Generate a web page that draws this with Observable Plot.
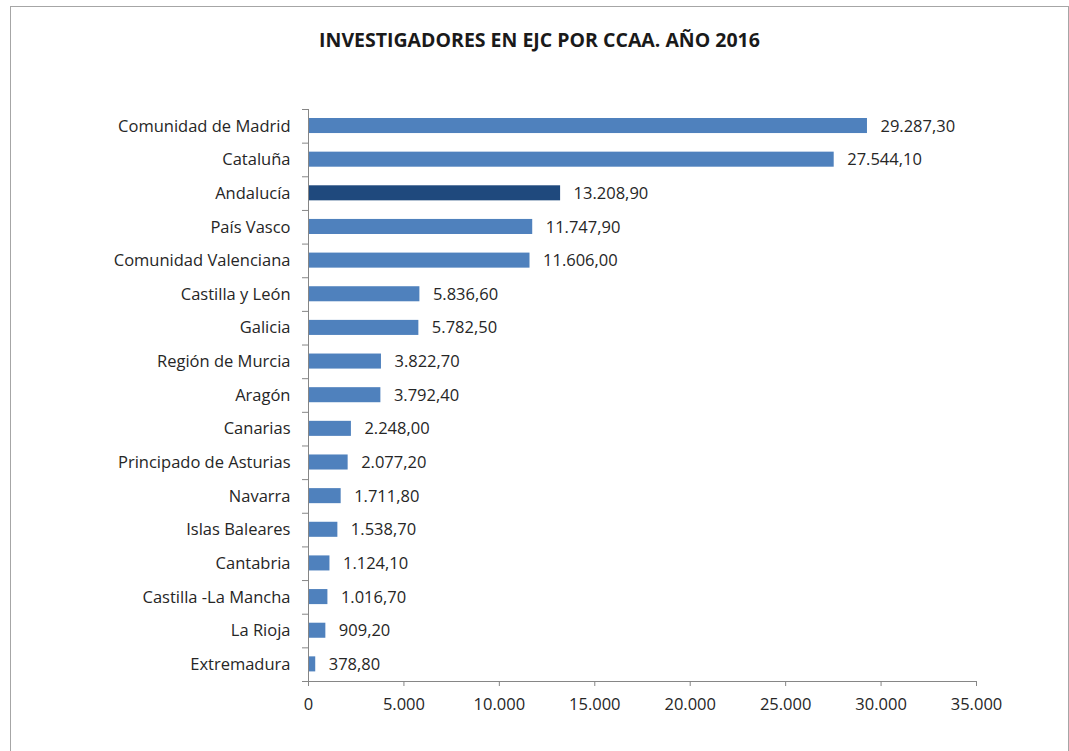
<!DOCTYPE html>
<html>
<head>
<meta charset="utf-8">
<script src="https://cdn.jsdelivr.net/npm/d3@7"></script>
<script src="https://cdn.jsdelivr.net/npm/@observablehq/plot@0.6"></script>
<style>
  html, body { margin: 0; padding: 0; background: #fff; }
  body { width: 1069px; height: 751px; position: relative; overflow: hidden; font-family: "Open Sans", sans-serif; }
  #frame { position: absolute; left: 10px; top: 6px; width: 1057px; height: 800px; border: 1px solid #a6a6a6; border-bottom: none; }
  #title { position: absolute; left: 0; top: 0; width: 1079px; padding-top: 28px; height: 52px; line-height: 24px; text-align: center; font-weight: bold; font-size: 19.5px; color: #1a1a1a; }
  #chart { position: absolute; left: 0; top: 80px; }
</style>
</head>
<body>
<div id="frame"></div>
<div id="title">INVESTIGADORES EN EJC POR CCAA. AÑO 2016</div>
<div id="chart"></div>
<script>
const regions = ["Comunidad de Madrid","Cataluña","Andalucía","País Vasco","Comunidad Valenciana","Castilla y León","Galicia","Región de Murcia","Aragón","Canarias","Principado de Asturias","Navarra","Islas Baleares","Cantabria","Castilla -La Mancha","La Rioja","Extremadura"];
const values = [29287.3,27544.1,13208.9,11747.9,11606.0,5836.6,5782.5,3822.7,3792.4,2248.0,2077.2,1711.8,1538.7,1124.1,1016.7,909.2,378.8];
const highlight = ["Andalucía"];
const xTicks = [0,5000,10000,15000,20000,25000,30000,35000];

const data = regions.map((r, i) => ({region: r, value: values[i], hi: highlight.includes(r)}));
const es = d3.formatLocale({decimal: ",", thousands: ".", grouping: [3], currency: ["", " €"]});
const fmtTick = es.format(",.0f");
const fmtVal = es.format(",.2f");

const axisColor = "#868686";
const textColor = "#262626";
const fs = 16.5;
const half = (681 - 109) / regions.length / 2;

const chart = Plot.plot({
  width: 1069,
  height: 671,
  marginLeft: 308,
  marginRight: 93,
  marginTop: 29,
  marginBottom: 70,
  style: {fontFamily: "'Open Sans', sans-serif", fontSize: fs + "px", color: textColor, background: "transparent"},
  x: {domain: [0, 35000], ticks: xTicks, label: null},
  y: {domain: regions, padding: 0, round: false, label: null},
  marks: [
    Plot.barX(data, {x: "value", y: "region", fill: d => d.hi ? "#1F497D" : "#4F81BD", insetTop: 9, insetBottom: 9.6}),
    Plot.text(data, {x: "value", y: "region", text: d => fmtVal(d.value), textAnchor: "start", dx: 13, fill: textColor, fontSize: fs}),
    Plot.ruleX([0], {stroke: axisColor, strokeWidth: 1}),
    Plot.axisY({tickSize: 0, tickPadding: 18, fill: textColor, fontSize: fs}),
    Plot.axisY({text: null, tickSize: 6, stroke: axisColor, dy: -half}),
    Plot.axisY(regions.slice(-1), {text: null, tickSize: 6, stroke: axisColor, dy: half}),
    Plot.frame({anchor: "bottom", stroke: axisColor}),
    Plot.axisX({ticks: xTicks, tickFormat: fmtTick, tickSize: 5, tickPadding: 12, stroke: axisColor, fill: textColor, fontSize: fs})
  ]
});
document.getElementById("chart").appendChild(chart);
</script>
</body>
</html>
